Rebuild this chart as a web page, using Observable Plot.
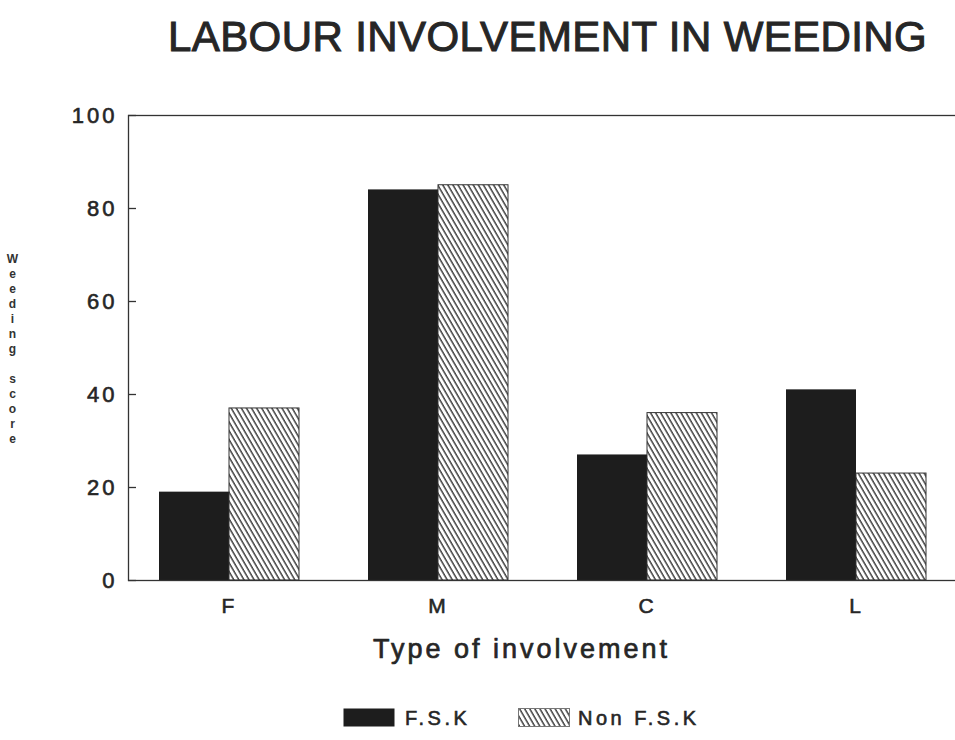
<!DOCTYPE html>
<html><head><meta charset="utf-8">
<script src="https://cdn.jsdelivr.net/npm/d3@7"></script>
<script src="https://cdn.jsdelivr.net/npm/@observablehq/plot@0.6"></script>
<style>
body{margin:0;background:#fff;font-family:"Liberation Sans",Arial,sans-serif;color:#262626}
#wrap{position:relative;width:955px;height:740px;overflow:hidden}
#title{position:absolute;left:168px;top:12px;font-size:42px;letter-spacing:0.4px;white-space:nowrap;line-height:1.2;-webkit-text-stroke:1px #262626}
#chart{position:absolute;left:0;top:80px}
.leg{position:absolute;top:708px;height:20px}
.legt{position:absolute;top:707px;font-size:20px;letter-spacing:3.5px;white-space:nowrap;line-height:22px;-webkit-text-stroke:0.6px #262626}
#chart svg [aria-label="y-axis tick label"] text,#chart svg [aria-label="x-axis tick label"] text{letter-spacing:3px;stroke:#262626;stroke-width:0.6px}
</style></head><body>
<svg width="0" height="0" style="position:absolute">
  <defs>
    <pattern id="hatch" patternUnits="userSpaceOnUse" width="4.4" height="10" patternTransform="rotate(-30)">
      <rect width="4.4" height="10" fill="#fff"/>
      <line x1="1" y1="0" x2="1" y2="10" stroke="#333" stroke-width="1.4"/>
    </pattern>
  </defs>
</svg>
<div id="wrap">
  <div id="title"></div>
  <div id="chart"></div>
  <div id="legend"></div>
</div>
<script>
const titleText = "LABOUR INVOLVEMENT IN WEEDING";
const categories = ["F", "M", "C", "L"];
const seriesNames = ["F.S.K", "Non F.S.K"];
const fskValues = [19, 84, 27, 41];
const nonFskValues = [37, 85, 36, 23];
const yTicks = [0, 20, 40, 60, 80, 100];
const xLabel = "Type of involvement";
const yLabel = "Weeding score";

const fskData = categories.map((c, i) => ({cat: c, series: seriesNames[0], value: fskValues[i]}));
const nonData = categories.map((c, i) => ({cat: c, series: seriesNames[1], value: nonFskValues[i]}));

document.getElementById("title").textContent = titleText;

const stacked = yLabel.split("").map(ch => ch === " " ? "\u00a0" : ch).join("\n");

const chart = Plot.plot({
  width: 955, height: 600,
  marginLeft: 128, marginRight: -3, marginTop: 35, marginBottom: 100,
  style: {fontFamily: "Liberation Sans, Arial, sans-serif", color: "#262626", background: "transparent", overflow: "visible"},
  x: {domain: categories, paddingInner: 0.33, paddingOuter: 0.15, label: null},
  y: {domain: [0, 100], label: null},
  marks: [
    Plot.barY(fskData, {x: "cat", y: "value", fill: "#1d1d1d", insetRight: 70}),
    Plot.barY(nonData, {x: "cat", y: "value", fill: "url(#hatch)", stroke: "#333", strokeWidth: 1, insetLeft: 70}),
    Plot.frame({stroke: "#333", strokeWidth: 1.3}),
    Plot.axisY({ticks: yTicks, tickSize: 8, dx: 8, tickFormat: () => "", label: null, stroke: "#333", strokeWidth: 1.3}),
    Plot.axisY({ticks: yTicks, tickSize: 0, tickPadding: 11, fontSize: 22, label: null}),
    Plot.axisX({tickSize: 0, tickPadding: 18, fontSize: 21, label: null}),
    Plot.text([xLabel], {frameAnchor: "bottom", lineAnchor: "top", dy: 58, dx: -22, fontSize: 27, fill: "#262626", stroke: "#262626", strokeWidth: 0.7}),
    Plot.text([stacked], {frameAnchor: "left", dx: -116, textAnchor: "middle", fontSize: 12, fontWeight: "bold", lineHeight: 1.25, fill: "#333"})
  ]
});
chart.querySelectorAll('text').forEach(t => {
  if (t.textContent === xLabel) t.setAttribute("letter-spacing", "3");
});
document.getElementById("chart").appendChild(chart);

// legend
const legend = document.getElementById("legend");
const fills = ["#1d1d1d", "url(#hatch)"];
const swatchX = [343, 518];
const textX = [405, 578];
seriesNames.forEach((name, i) => {
  const sw = document.createElementNS("http://www.w3.org/2000/svg", "svg");
  sw.setAttribute("width", 52); sw.setAttribute("height", 19);
  sw.setAttribute("class", "leg");
  sw.style.left = swatchX[i] + "px";
  const r = document.createElementNS("http://www.w3.org/2000/svg", "rect");
  r.setAttribute("x", 0.5); r.setAttribute("y", 0.5); r.setAttribute("width", 51); r.setAttribute("height", 18);
  r.setAttribute("fill", fills[i]);
  if (i === 1) { r.setAttribute("stroke", "#777"); r.setAttribute("stroke-width", 1); }
  sw.appendChild(r);
  legend.appendChild(sw);
  const sp = document.createElement("div");
  sp.className = "legt";
  sp.textContent = name;
  sp.style.left = textX[i] + "px";
  legend.appendChild(sp);
});
</script>
</body></html>
